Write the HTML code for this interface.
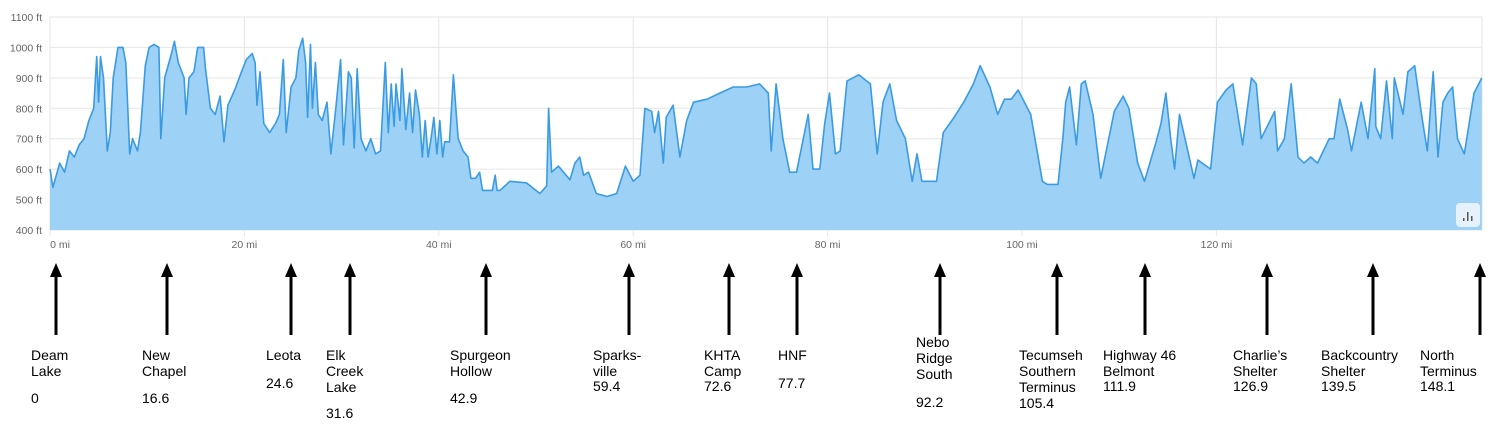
<!DOCTYPE html>
<html><head><meta charset="utf-8">
<style>
body{margin:0;background:#fff;width:1498px;height:441px;overflow:hidden;position:relative;font-family:"Liberation Sans",sans-serif;}
svg{position:absolute;left:0;top:0;}
.lbl{position:absolute;font-size:14px;line-height:16px;color:#000;white-space:nowrap;}
.num{position:absolute;font-size:14px;color:#000;}
</style></head><body>
<svg id="chart" width="1498" height="441" xmlns="http://www.w3.org/2000/svg"></svg>
<script>
const miles=[0,0.3,1,1.5,2,2.5,3,3.5,4,4.5,4.8,5,5.2,5.5,5.9,6.2,6.5,7,7.5,7.8,8,8.2,8.5,9,9.3,9.8,10.2,10.7,11.2,11.4,11.8,12.5,12.8,13.2,13.8,14,14.3,14.8,15.2,15.8,16,16.5,17,17.5,17.9,18.3,19,19.7,20.2,20.8,21.1,21.3,21.6,22,22.6,23.2,23.6,24,24.3,24.8,25.3,25.6,26,26.3,26.5,26.8,27,27.3,27.6,28,28.5,28.9,29.4,29.9,30.2,30.7,31,31.3,31.6,32,32.5,33,33.5,34,34.5,34.8,35.1,35.4,35.6,36,36.2,36.6,37,37.3,37.6,38,38.3,38.6,38.9,39.2,39.5,39.8,40.1,40.4,40.6,41.1,41.5,41.8,42,42.5,43,43.3,43.8,44.2,44.5,45,45.5,45.8,46,46.3,47.3,49.0,50.4,51.1,51.3,51.6,52.3,53.5,54.0,54.5,54.9,55.4,56.2,57.3,58.3,59.2,60.0,60.7,61.2,61.9,62.2,62.6,63.1,63.4,64.1,64.8,65.5,66.2,67.6,68.9,70.3,71.7,73.0,73.9,74.2,74.7,75.4,76.1,76.8,77.5,78.0,78.5,79.2,79.7,80.2,80.8,81.3,82.0,83.2,84.4,85.1,85.7,86.4,87.1,88.0,88.7,89.2,89.7,91.2,91.9,93.0,94.0,95.0,95.7,96.7,97.5,98.2,98.9,99.6,100.9,102.1,102.6,103.7,104.2,104.5,104.9,105.6,106.1,106.5,107.3,108.1,109.5,110.4,111.0,111.9,112.6,113.8,114.3,114.8,115.3,115.7,116.2,117.7,118.1,119.4,120.1,121.0,121.7,122.7,123.6,124.1,124.6,126.0,126.3,127.0,127.7,128.4,129.0,129.7,130.4,131.6,132.1,132.7,133.5,133.9,134.9,135.6,136.3,136.4,136.9,137.5,138.1,138.3,139.2,139.7,140.4,141.1,141.7,142.3,142.8,143.3,143.8,144.3,144.8,145.5,146.5,147.3];
const elevation=[600,540,620,590,660,640,680,700,760,800,970,820,970,900,660,720,900,1000,1000,950,800,650,700,660,720,940,1000,1010,1000,700,900,980,1020,950,900,780,900,920,1000,1000,930,800,780,840,690,810,860,920,960,980,950,810,920,750,720,750,780,960,720,870,900,990,1030,950,770,1010,800,950,780,760,820,650,800,960,680,920,900,670,930,700,660,700,650,660,950,720,880,740,880,760,930,730,850,720,860,780,640,760,640,700,770,650,760,640,690,690,910,780,700,660,640,570,570,590,530,530,530,580,530,530,560,555,520,545,800,590,610,565,620,640,580,590,520,510,520,610,560,580,800,790,720,790,620,770,810,640,760,820,830,850,870,870,880,850,660,880,700,590,590,700,780,600,600,750,850,650,660,890,910,880,650,820,880,760,700,560,650,560,560,720,770,820,880,940,870,780,830,830,860,780,560,550,550,700,820,870,680,880,890,780,570,790,840,800,620,560,690,750,850,700,600,780,570,630,600,820,860,880,680,900,880,700,790,660,700,880,640,620,640,620,700,700,830,730,660,820,700,930,740,700,890,700,900,780,920,940,780,660,920,640,820,850,870,700,650,850,900,900,920];
const yTicks=[400,500,600,700,800,900,1000,1100];
const xTicks=[0,20,40,60,80,100,120];
const markerNames=[["Deam","Lake"],["New","Chapel"],["Leota"],["Elk","Creek","Lake"],["Spurgeon","Hollow"],["Sparks-","ville"],["KHTA","Camp"],["HNF"],["Nebo","Ridge","South"],["Tecumseh","Southern","Terminus"],["Highway 46","Belmont"],["Charlie’s","Shelter"],["Backcountry","Shelter"],["North","Terminus"]];
const markerMiles=["0","16.6","24.6","31.6","42.9","59.4","72.6","77.7","92.2","105.4","111.9","126.9","139.5","148.1"];

const svg=document.getElementById('chart');const NS='http://www.w3.org/2000/svg';
const L=50,R=1482,T=17,B=230;
const xs=m=>L+m*9.72;
const ys=v=>B-(v-400)*(B-T)/700;
function mk(tag,attrs){const e=document.createElementNS(NS,tag);for(const k in attrs)e.setAttribute(k,attrs[k]);svg.appendChild(e);return e;}
yTicks.forEach(v=>{
 const g=mk('line',{x1:L,x2:R,y1:ys(v),y2:ys(v),stroke:'#e6e6e6','stroke-width':1});
 
 
 const t=mk('text',{x:42,y:ys(v)+4,'text-anchor':'end','font-size':'10.5',fill:'#666','font-family':'Liberation Sans, sans-serif'});
 t.textContent=v+' ft';
 
 
});
xTicks.forEach(m=>{
 const g=mk('line',{x1:xs(m),x2:xs(m),y1:T,y2:B+6,stroke:'#e6e6e6','stroke-width':1});
 
 
 const t=mk('text',{x:xs(m)+(m===0?10:0),y:248,'text-anchor':'middle','font-size':'10.5',fill:'#666','font-family':'Liberation Sans, sans-serif'});
 t.textContent=m+' mi';
 
 
});
mk('line',{x1:R,x2:R,y1:T,y2:B,stroke:'#e6e6e6'});
let d='M'+xs(miles[0])+','+ys(elevation[0]);
for(let i=1;i<miles.length;i++)d+=' L'+xs(miles[i]).toFixed(1)+','+ys(elevation[i]).toFixed(1);
const area=mk('path',{d:d+' L'+xs(miles[miles.length-1]).toFixed(1)+','+B+' L'+L+','+B+' Z',fill:'#9dd1f5'});


const line=mk('path',{d:d,fill:'none',stroke:'#3a9be2','stroke-width':1.6,'stroke-linejoin':'round'});


const btn=mk('rect',{x:1456,y:203,width:24,height:24,rx:4,fill:'#e6f2fb'});


[[1463,218,3],[1467,212,9],[1471,216,5]].forEach(b=>mk('rect',{x:b[0],y:b[1],width:1.5,height:b[2],fill:'#555'}));

const arrowX=[56,167,291,350,486,629,729,797,940,1057,1145,1267,1373,1480];
const labelX=[31,142,266,326,450,593,704,778,916,1019,1103,1233,1321,1420];
const labelTop=[347,347,347,347,347,347,347,347,334,347,347,347,347,347];
const numTop=[390,390,375,405,390,378,378,375,394,395,378,378,378,378];
markerNames.forEach((names,i)=>{
 const a=mk('line',{x1:arrowX[i],x2:arrowX[i],y1:276,y2:335,stroke:'#000','stroke-width':3});
 
 
 mk('polygon',{points:`${arrowX[i]-6},277 ${arrowX[i]+6},277 ${arrowX[i]},263`,fill:'#000'});
 const dv=document.createElement('div');dv.className='lbl';
 dv.style.left=labelX[i]+'px';dv.style.top=labelTop[i]+'px';
 dv.innerHTML=names.join('<br>');
 
 
 document.body.appendChild(dv);
 const nv=document.createElement('div');nv.className='num';
 nv.style.left=labelX[i]+'px';nv.style.top=numTop[i]+'px';
 nv.textContent=markerMiles[i];
 
 
 document.body.appendChild(nv);
});
</script>
</body></html>
